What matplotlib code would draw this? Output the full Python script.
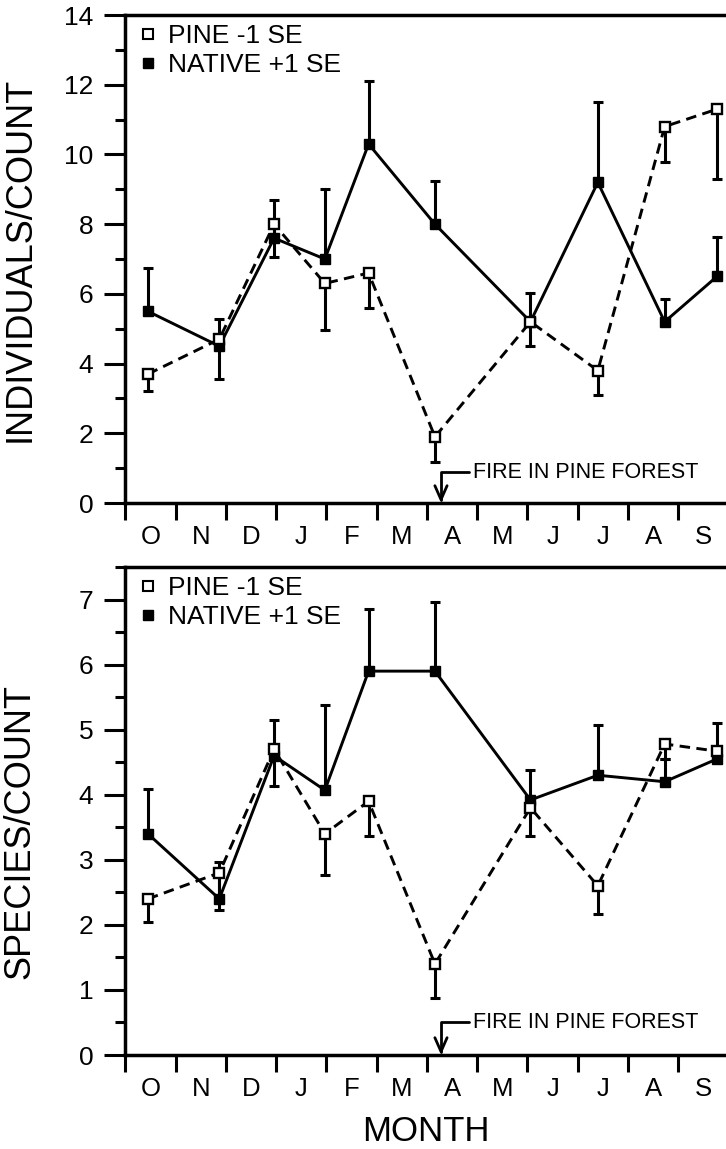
import matplotlib
matplotlib.use('agg')
import matplotlib.pyplot as plt
from matplotlib.lines import Line2D
from matplotlib.ticker import MultipleLocator

plt.rcParams['font.family'] = ['Liberation Sans', 'DejaVu Sans']

months = ['O', 'N', 'D', 'J', 'F', 'M', 'A', 'M', 'J', 'J', 'A', 'S']
# sampling dates, in months counted from 1 October
sample_pos = [0.45, 1.87, 2.96, 3.97, 4.84, 6.16, 8.06, 9.40, 10.73, 11.77]
fire_pos = 6.28

# individuals per count
ind_pine = [3.7, 4.7, 8.0, 6.3, 6.6, 1.9, 5.2, 3.8, 10.8, 11.3]
ind_pine_se = [0.5, 1.15, 0.95, 1.35, 1.0, 0.72, 0.7, 0.7, 1.02, 2.0]
ind_native = [5.5, 4.5, 7.6, 7.0, 10.3, 8.0, 5.2, 9.2, 5.2, 6.5]
ind_native_se = [1.25, 0.77, 1.1, 2.0, 1.8, 1.25, 0.82, 2.3, 0.65, 1.13]

# species per count
sp_pine = [2.4, 2.8, 4.7, 3.4, 3.9, 1.4, 3.8, 2.6, 4.78, 4.67]
sp_pine_se = [0.35, 0.57, 0.57, 0.64, 0.53, 0.52, 0.43, 0.44, 0.23, 0.12]
sp_native = [3.4, 2.4, 4.6, 4.07, 5.9, 5.9, 3.92, 4.3, 4.2, 4.55]
sp_native_se = [0.69, 0.57, 0.55, 1.31, 0.96, 1.07, 0.46, 0.77, 0.35, 0.55]


def panel(ax, pine, pine_se, native, native_se, ymax, major, minor, ylabel, fire_y):
    zeros = [0] * len(sample_pos)
    ax.errorbar(sample_pos, native, yerr=[zeros, native_se], fmt='none',
                ecolor='black', elinewidth=2.2, capsize=3.5, capthick=2.2, zorder=2)
    ax.plot(sample_pos, native, ls='-', lw=2.1, color='black', marker='s',
            ms=7.5, mfc='black', mec='black', zorder=3)
    ax.errorbar(sample_pos, pine, yerr=[pine_se, zeros], fmt='none',
                ecolor='black', elinewidth=2.2, capsize=3.5, capthick=2.2, zorder=4)
    ax.plot(sample_pos, pine, ls=(0, (3.6, 2.2)), lw=2.1, color='black', marker='s',
            ms=7.5, mfc='white', mec='black', mew=1.7, zorder=5)

    ax.set_xlim(0, 11.95)
    ax.set_ylim(0, ymax)
    ax.yaxis.set_major_locator(MultipleLocator(major))
    ax.yaxis.set_minor_locator(MultipleLocator(minor))
    ax.set_xticks(range(12))
    ax.set_xticks([k + 0.5 for k in range(12)], minor=True)
    ax.set_xticklabels(months, minor=True)
    ax.tick_params(axis='x', which='major', length=12, width=2.2, labelbottom=False)
    ax.tick_params(axis='x', which='minor', length=0, pad=16, labelsize=18.5)
    ax.tick_params(axis='y', which='major', length=15, width=2.2, pad=8, labelsize=19)
    ax.tick_params(axis='y', which='minor', length=7, width=2.2)
    ax.spines['right'].set_visible(False)
    for s in ['left', 'top', 'bottom']:
        ax.spines[s].set_linewidth(2.5)

    ax.set_ylabel(ylabel, fontsize=26, va='center')

    handles = [Line2D([], [], ls='none', marker='s', ms=6.5, mfc='white', mec='black', mew=1.5),
               Line2D([], [], ls='none', marker='s', ms=6.5, mfc='black', mec='black')]
    ax.legend(handles, ['PINE -1 SE', 'NATIVE +1 SE'], loc='upper left',
              bbox_to_anchor=(0.027, 0.982), frameon=False, fontsize=19,
              handlelength=0.5, handletextpad=0.5, labelspacing=0.2,
              borderpad=0, borderaxespad=0)

    ax.annotate('FIRE IN PINE FOREST', xy=(fire_pos, 0), xytext=(6.92, fire_y),
                fontsize=15.5, ha='left', va='center',
                arrowprops=dict(arrowstyle='->,head_length=0.5,head_width=0.22',
                                connectionstyle='angle,angleA=0,angleB=90,rad=0',
                                lw=2, color='black', shrinkA=1, shrinkB=0,
                                mutation_scale=20))


fig = plt.figure(figsize=(7.26, 11.49), dpi=100)
ax1 = fig.add_axes([0.1726, 0.5622, 0.8274, 0.4247])
ax2 = fig.add_axes([0.1726, 0.0818, 0.8274, 0.4247])

panel(ax1, ind_pine, ind_pine_se, ind_native, ind_native_se, 14, 2, 1,
      'INDIVIDUALS/COUNT', 0.89)
panel(ax2, sp_pine, sp_pine_se, sp_native, sp_native_se, 7.5, 1, 0.5,
      'SPECIES/COUNT', 0.5)

ax1.yaxis.set_label_coords(-0.175, 0.5)
ax2.yaxis.set_label_coords(-0.175, 0.459)
ax2.set_xlabel('MONTH', fontsize=25, va='center')
ax2.xaxis.set_label_coords(0.5, -0.156)

fig.savefig('out.png', dpi=100)
